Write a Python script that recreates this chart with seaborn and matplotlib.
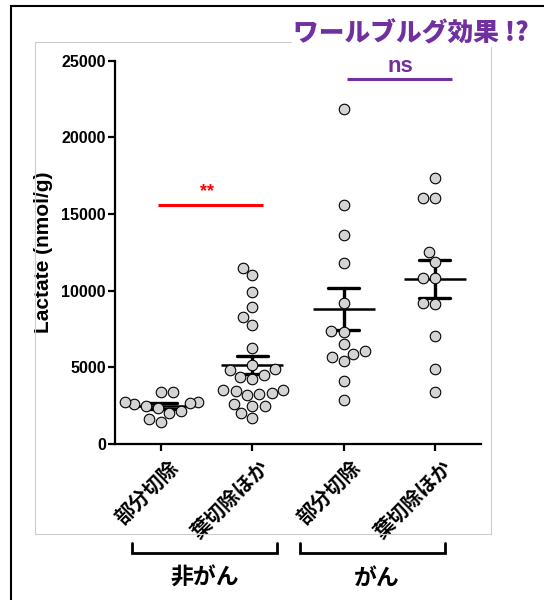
import numpy as np
import pandas as pd
import seaborn as sns
import matplotlib.pyplot as plt
from matplotlib.patches import Rectangle
from matplotlib.transforms import ScaledTranslation

# %% data (nmol/g)
group_keys = ["noncancer_partial", "noncancer_lobe", "cancer_partial", "cancer_lobe"]
tick_labels = ["部分切除", "葉切除ほか", "部分切除", "葉切除ほか"]
group_names = ["非がん", "がん"]

noncancer_partial = [3390, 3390, 2740, 2690, 2610, 2740, 2330, 2480, 2040, 2170, 1460, 1650]
noncancer_lobe = [11480, 10990, 9940, 8940, 8290, 7790, 6290, 5170, 4870, 4500, 4240, 4370,
                  4800, 3550, 3450, 3250, 3190, 3300, 3490, 2630, 2500, 2050, 2500, 1700]
cancer_partial = [21820, 15580, 13630, 11780, 9210, 7320, 7370, 6500, 5870, 5410, 5650, 6060,
                  4130, 2870]
cancer_lobe = [17320, 16020, 16020, 12540, 11880, 10800, 10850, 9170, 9110, 7040, 4870, 3410]

sig_labels = ["**", "ns"]
sig_levels = [15580, 23810]

values = [noncancer_partial, noncancer_lobe, cancer_partial, cancer_lobe]
df = pd.DataFrame({
    "group": np.repeat(group_keys, [len(v) for v in values]),
    "lactate": np.concatenate(values),
})

# %% style
sns.set_theme(style="ticks", rc={
    "axes.linewidth": 1.6, "axes.edgecolor": "black", "text.color": "black",
    "axes.labelcolor": "black", "xtick.color": "black", "ytick.color": "black",
})
plt.rcParams["font.family"] = ["Liberation Sans", "Noto Sans CJK JP"]
plt.rcParams["font.weight"] = "bold"

fig = plt.figure(figsize=(5.44, 6.0), dpi=100)
ax = fig.add_axes([0.2123, 0.26, 0.671, 0.639])

sns.swarmplot(
    data=df, x="group", y="lactate", order=group_keys, size=7.6,
    color="#d4d4d4", edgecolor="black", linewidth=0.8, ax=ax,
)
# mean +/- SEM
sns.pointplot(
    data=df, x="group", y="lactate", order=group_keys, errorbar="se",
    capsize=0.34, linestyle="none", marker="_", markersize=45,
    markeredgewidth=1.8, color="black", err_kws={"linewidth": 2.4}, ax=ax,
)

ax.set_xlim(-0.5, 3.5)
ax.set_ylim(0, 25000)
ax.set_yticks(np.arange(0, 25001, 5000))
ax.set_xticks(range(4))
ax.set_xticklabels(tick_labels, rotation=45, ha="right", va="center",
                   rotation_mode="anchor", fontsize=14.5)
ax.set_xlabel("")
ax.set_ylabel("Lactate (nmol/g)", fontsize=15, fontweight="bold")
ax.yaxis.set_label_coords(-0.172, 0.5)
ax.tick_params(axis="both", direction="out", length=5, width=1.6, color="black",
               labelcolor="black")
ax.tick_params(axis="y", labelsize=11.5, pad=2)
ax.tick_params(axis="x", pad=9.4)
sns.despine(ax=ax)
for lbl in ax.get_xticklabels():
    lbl.set_transform(lbl.get_transform() + ScaledTranslation(0.14, 0, fig.dpi_scale_trans))

# significance bars
ax.plot([-0.03, 1.115], [sig_levels[0]] * 2, color="#ff0000", lw=2.2, solid_capstyle="butt")
ax.text(0.5, sig_levels[0] + 850, sig_labels[0], color="#ff0000", ha="center", va="center",
        fontsize=13, fontweight="bold")
ax.plot([2.04, 3.19], [sig_levels[1]] * 2, color="#7030a0", lw=2.2, solid_capstyle="butt",
        clip_on=False)
ax.text(2.62, sig_levels[1] + 800, sig_labels[1], color="#7030a0", ha="center", va="center",
        fontsize=16, fontweight="bold", clip_on=False)

# group brackets under the tick labels
xt = ax.get_xaxis_transform()
for (x0, x1), xc, name in zip([(-0.32, 1.265), (1.52, 3.11)], [0.48, 2.36], group_names):
    ax.plot([x0, x0, x1, x1], [-0.258, -0.284, -0.284, -0.258], color="black", lw=2,
            transform=xt, clip_on=False, solid_joinstyle="miter")
    ax.text(xc, -0.35, name, transform=xt, ha="center", va="center", fontsize=16.5,
            fontweight="bold", family=["Noto Sans CJK JP"])

# frames
fig.add_artist(Rectangle((34.5 / 544, 1 - 534 / 600), 456.5 / 544, 492 / 600,
                         transform=fig.transFigure, fill=False, ec="#cccccc", lw=0.8))
fig.add_artist(Rectangle((10.5 / 544, -0.1), 1.2, 1.1 - 5.5 / 600,
                         transform=fig.transFigure, fill=False, ec="black", lw=1.5))

fig.text(411 / 544, 1 - 33 / 600, "ワールブルグ効果 !?", ha="center", va="center",
         fontsize=18.5, fontweight="heavy", color="#7030a0", family=["Noto Sans CJK JP"],
         bbox=dict(facecolor="white", edgecolor="none", pad=1))

fig.savefig("out.png", dpi=100)
